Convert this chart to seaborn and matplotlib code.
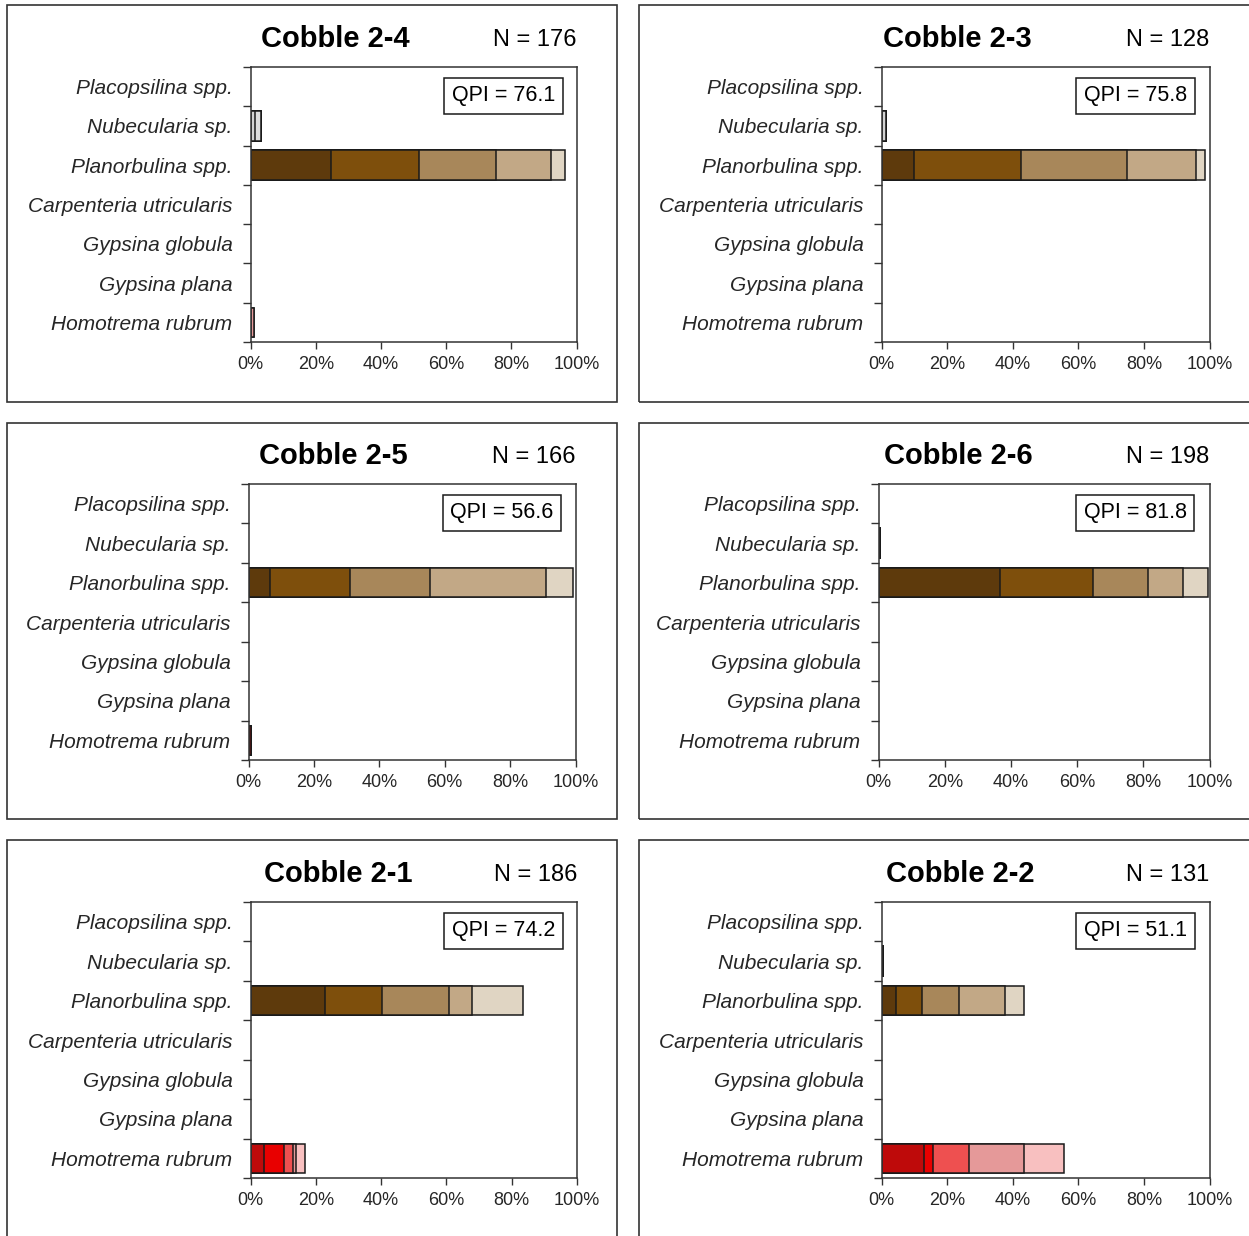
import numpy as np
import pandas as pd
import seaborn as sns
import matplotlib.pyplot as plt
from matplotlib.patches import Rectangle

sns.set_theme(style="ticks")
plt.rcParams['font.family'] = ['Liberation Sans', 'DejaVu Sans']

# 数据
species = ["Placopsilina spp.", "Nubecularia sp.", "Planorbulina spp.",
           "Carpenteria utricularis", "Gypsina globula", "Gypsina plana",
           "Homotrema rubrum"]
cobbles = ["Cobble 2-4", "Cobble 2-3", "Cobble 2-5", "Cobble 2-6", "Cobble 2-1", "Cobble 2-2"]
n_counts = [176, 128, 166, 198, 186, 131]
qpi = [76.1, 75.8, 56.6, 81.8, 74.2, 51.1]

# 每个面板 5 个等级的百分比
nubecularia = [[1.4, 1.7, 0, 0, 0], [1.3, 0, 0, 0, 0], [0, 0, 0, 0, 0],
               [0.5, 0, 0, 0, 0], [0, 0, 0, 0, 0], [0.5, 0, 0, 0, 0]]
planorbulina = [[24.8, 26.8, 23.7, 16.8, 4.5], [10.0, 32.4, 32.4, 21.1, 2.6],
                [6.6, 24.5, 24.3, 35.6, 8.3], [36.6, 28.3, 16.6, 10.6, 7.4],
                [22.8, 17.4, 20.7, 6.8, 15.9], [4.5, 7.9, 11.3, 13.9, 5.8]]
homotrema = [[0, 0, 0, 1.0, 0], [0, 0, 0, 0, 0], [0.9, 0, 0, 0, 0],
             [0, 0, 0, 0, 0], [4.2, 6.1, 2.8, 0.8, 2.8], [12.9, 2.8, 11.0, 16.7, 12.3]]

grey_pal = ['#D2D2D2', '#DCDCDC', '#E6E6E6', '#EEEEEE', '#F6F6F6']
brown_pal = ['#5E3A0C', '#7E4F0C', '#A8875A', '#C2A886', '#E0D5C3']
red_pal = ['#BE0A0A', '#E80000', '#EE5050', '#E59999', '#F8C0C0']
other = '#CCCCCC'

W, H = 1249, 1236
# 轴位置（像素）: 左, 右, 上, 下
axes_px = [(250.5, 576.5, 67, 342), (881.5, 1209.5, 67, 342),
           (248.5, 575.5, 484, 760), (878.5, 1209.5, 484, 760),
           (250.5, 577, 902, 1178), (881.5, 1209.5, 902, 1178)]
title_x = [0.26, 0.23, 0.26, 0.24, 0.27, 0.24]
frames_x = [(7, 617), (639, 1252)]
frames_y = [(5, 402), (423, 819), (840, 1242)]

fig = plt.figure(figsize=(W / 100, H / 100), dpi=100)

for fx in frames_x:
    for fy in frames_y:
        fig.add_artist(Rectangle((fx[0] / W, 1 - fy[1] / H), (fx[1] - fx[0]) / W,
                                 (fy[1] - fy[0]) / H, transform=fig.transFigure,
                                 fill=False, lw=1.2, ec='#333333'))

for i, (l, r, t, b) in enumerate(axes_px):
    ax = fig.add_axes([l / W, 1 - b / H, (r - l) / W, (b - t) / H])
    segs = {species[1]: nubecularia[i], species[2]: planorbulina[i], species[6]: homotrema[i]}
    pals = {species[1]: grey_pal, species[2]: brown_pal, species[6]: red_pal}
    # 从最长的累计值开始画，短的叠在上面
    for k in range(4, -1, -1):
        rows = []
        for sp, vals in segs.items():
            cum = float(np.sum(vals[:k + 1]))
            if cum > 0:
                rows.append({"species": sp, "value": cum})
        if not rows:
            continue
        df = pd.DataFrame(rows)
        palette = {sp: pals.get(sp, [other] * 5)[k] for sp in species}
        sns.barplot(data=df, x="value", y="species", hue="species", order=species,
                    hue_order=list(df["species"]), palette=palette, dodge=False,
                    legend=False, width=0.75, edgecolor='#1A1A1A', linewidth=1.1,
                    saturation=1, ax=ax)

    ax.set_xlim(0, 100)
    ax.set_ylim(6.5, -0.5)
    ax.set_xticks(np.arange(0, 101, 20))
    ax.set_xticklabels([f"{v}%" for v in range(0, 101, 20)], fontsize=13)
    ax.set_yticks(range(len(species)))
    ax.set_yticklabels(species, fontsize=15, style='italic')
    ax.set_yticks(np.arange(-0.5, 7, 1), minor=True)
    ax.tick_params(axis='y', which='major', length=0, pad=13)
    ax.tick_params(axis='y', which='minor', length=6, width=1.0, direction='out', color='#333333')
    ax.tick_params(axis='x', length=5, width=1.0, pad=5, direction='out', color='#333333')
    ax.set_xlabel('')
    ax.set_ylabel('')
    for s in ax.spines.values():
        s.set_color('#333333')
        s.set_linewidth(1.1)

    ax.text(title_x[i], 1.102, cobbles[i], transform=ax.transAxes, ha='center', va='center',
            fontsize=21, fontweight='bold', color='black')
    ax.text(1.0, 1.098, f"N = {n_counts[i]}", transform=ax.transAxes, ha='right',
            va='center', fontsize=17, color='black')
    ax.text(0.775, 0.895, f"QPI = {qpi[i]}", transform=ax.transAxes, ha='center',
            va='center', fontsize=15.5, color='black',
            bbox=dict(boxstyle='square,pad=0.36', fc='white', ec='#1A1A1A', lw=1.1))

fig.savefig("out.png", dpi=100)
